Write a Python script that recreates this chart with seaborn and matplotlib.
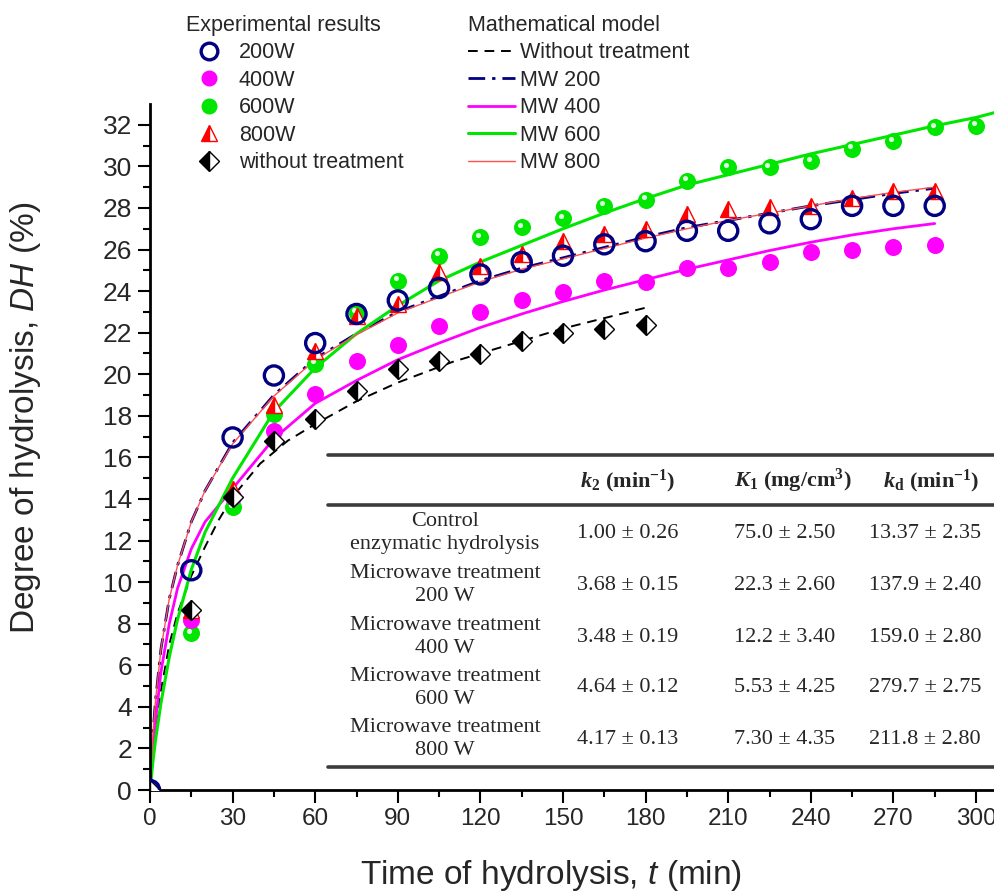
# %%
import numpy as np
import pandas as pd
import matplotlib
matplotlib.use("Agg")
import matplotlib.pyplot as plt
import seaborn as sns
from matplotlib.lines import Line2D
from matplotlib.transforms import ScaledTranslation

# %% experimental points
t_exp = [0, 15, 30, 45, 60, 75, 90, 105, 120, 135, 150, 165, 180, 195, 210, 225, 240, 255, 270, 285]
t_exp_600 = t_exp + [300]
t_exp_ctrl = t_exp[:13]

dh_200 = [0, 10.57, 16.96, 19.94, 21.5, 22.9, 23.55, 24.15, 24.8, 25.4, 25.7, 26.25, 26.4,
          26.9, 26.9, 27.26, 27.46, 28.1, 28.1, 28.1]
dh_400 = [0, 8.17, 14.1, 17.25, 19.05, 20.66, 21.43, 22.3, 22.98, 23.58, 23.95, 24.5, 24.46,
          25.1, 25.1, 25.4, 25.9, 26.0, 26.1, 26.24]
dh_600 = [0, 7.55, 13.6, 18.1, 20.5, 22.95, 24.5, 25.7, 26.6, 27.07, 27.5, 28.1, 28.4,
          29.3, 29.96, 29.96, 30.24, 30.84, 31.2, 31.87, 31.95]
dh_800 = [0, 8.65, 14.5, 18.5, 21.1, 22.8, 23.39, 24.9, 25.2, 25.8, 26.4, 26.75, 26.98,
          27.7, 27.95, 28.03, 28.1, 28.5, 28.8, 28.8]
dh_ctrl = [0, 8.65, 14.1, 16.8, 17.85, 19.2, 20.26, 20.66, 20.98, 21.6, 22.0, 22.2, 22.37]

# %% model curves
t_mod_ctrl = [0, 1, 2, 4, 7, 10, 15, 20, 25, 30, 40, 50, 60, 75, 90, 110, 130, 150, 165, 180]
mod_ctrl = [0, 1.6, 2.9, 4.8, 7.0, 8.5, 10.3, 11.7, 13.0, 14.1, 15.7, 16.8, 17.6, 18.7, 19.6,
            20.6, 21.4, 22.2, 22.7, 23.2]

t_mod = [0, 1, 2, 4, 7, 10, 15, 20, 30, 45, 60, 75, 90, 105, 120, 135, 150, 165, 180,
         195, 210, 225, 240, 255, 270, 285]
mod_200 = [0, 2.6, 4.3, 6.8, 9.2, 10.8, 12.9, 14.4, 16.7, 19.0, 20.75, 21.95, 23.0, 23.75,
           24.5, 25.1, 25.6, 26.1, 26.6, 27.05, 27.4, 27.75, 28.1, 28.4, 28.7, 28.95]
mod_800 = [0, 2.6, 4.3, 6.8, 9.2, 10.8, 12.9, 14.4, 16.65, 18.95, 20.7, 21.9, 22.95, 23.7,
           24.45, 25.05, 25.55, 26.05, 26.55, 27.0, 27.4, 27.75, 28.1, 28.45, 28.75, 29.0]
mod_400 = [0, 1.7, 3.3, 5.7, 8.0, 9.7, 11.6, 12.9, 14.5, 16.9, 18.6, 19.7, 20.7, 21.5,
           22.25, 22.9, 23.5, 24.05, 24.55, 25.05, 25.5, 25.95, 26.35, 26.7, 27.0, 27.25]
t_mod_600 = t_mod + [300, 310]
mod_600 = [0, 1.3, 2.4, 4.2, 6.4, 8.2, 10.6, 12.4, 15.0, 18.2, 20.3, 21.95, 23.3, 24.5,
           25.4, 26.2, 27.0, 27.75, 28.45, 29.1, 29.6, 30.1, 30.6, 31.05, 31.5, 31.95, 32.35, 32.7]

# %% table
row_labels = ["Control\nenzymatic hydrolysis", "Microwave treatment\n200 W",
              "Microwave treatment\n400 W", "Microwave treatment\n600 W",
              "Microwave treatment\n800 W"]
col_k2 = ["1.00 ± 0.26", "3.68 ± 0.15", "3.48 ± 0.19", "4.64 ± 0.12", "4.17 ± 0.13"]
col_K1 = ["75.0 ± 2.50", "22.3 ± 2.60", "12.2 ± 3.40", "5.53 ± 4.25", "7.30 ± 4.35"]
col_kd = ["13.37 ± 2.35", "137.9 ± 2.40", "159.0 ± 2.80", "279.7 ± 2.75", "211.8 ± 2.80"]

NAVY, MAGENTA, GREEN, RED = "#000080", "#ff00ff", "#00e600", "#ff0000"

W, H = 995, 894


def fx(px):
    return px / W


def fy(py):
    return 1 - py / H


sns.set_theme(style="ticks")
plt.rcParams["font.family"] = ["Liberation Sans", "DejaVu Sans"]
plt.rcParams.update({
    "mathtext.fontset": "custom",
    "mathtext.rm": "Liberation Serif",
    "mathtext.it": "Liberation Serif:italic",
    "mathtext.bf": "Liberation Serif:bold",
    "mathtext.bfit": "Liberation Serif:italic:bold",
    "mathtext.sf": "Liberation Sans:italic",
})

fig = plt.figure(figsize=(W / 100, H / 100), dpi=100)
ax = fig.add_axes([fx(150), fy(790), fx(995) - fx(150), fy(104) - fy(790)])

# model curves
sns.lineplot(x=t_mod_ctrl, y=mod_ctrl, color="black", lw=1.4, linestyle=(0, (5, 3.5)), ax=ax, zorder=2)
sns.lineplot(x=t_mod, y=mod_200, color=NAVY, lw=2.0, linestyle=(0, (6, 2.5, 1.2, 2.5)), ax=ax, zorder=2)
sns.lineplot(x=t_mod, y=mod_400, color=MAGENTA, lw=2.0, ax=ax, zorder=2)
sns.lineplot(x=t_mod_600, y=mod_600, color=GREEN, lw=2.2, ax=ax, zorder=2)
sns.lineplot(x=t_mod, y=mod_800, color="#ff5050", lw=1.0, ax=ax, zorder=2)

# experimental points
sns.scatterplot(x=t_exp_600, y=dh_600, color=GREEN, s=150, edgecolor=GREEN, linewidth=0, ax=ax, zorder=3)
hl = ax.transData + ScaledTranslation(-1.5 / 72, 1.8 / 72, fig.dpi_scale_trans)
ax.scatter(t_exp_600, dh_600, s=14, color="#d8ffd8", linewidth=0, transform=hl, zorder=3.1)
sns.scatterplot(x=t_exp, y=dh_400, color=MAGENTA, s=150, linewidth=0, ax=ax, zorder=3.2)
ax.plot(t_exp, dh_800, ls="none", marker="^", ms=12, mfc=RED, mfcalt="white", mec=RED,
        mew=1.0, fillstyle="left", zorder=3.3)
ax.plot(t_exp_ctrl, dh_ctrl, ls="none", marker="D", ms=10, mfc="black", mfcalt="white", mec="black",
        mew=1.0, fillstyle="left", zorder=3.4)
sns.scatterplot(x=t_exp, y=dh_200, facecolor="none", edgecolor=NAVY, s=190, linewidth=2.4, ax=ax, zorder=3.5)

ax.set_xlim(0, 306.9)
ax.set_ylim(0, 33)
ax.set_xticks(np.arange(0, 301, 30))
ax.set_xticks(np.arange(15, 301, 30), minor=True)
ax.set_yticks(np.arange(0, 33, 2))
ax.set_yticks(np.arange(1, 33, 2), minor=True)
ax.tick_params(which="major", length=9, width=1.5, labelsize=19, direction="out", color="black", pad=4)
ax.tick_params(which="minor", length=5, width=1.5, direction="out", color="black")
ax.tick_params(axis="x", labelsize=17.5)
for s in ["top", "right"]:
    ax.spines[s].set_visible(False)
for s in ["left", "bottom"]:
    ax.spines[s].set_linewidth(2.0)
    ax.spines[s].set_color("black")

ax.set_xlabel(r"Time of hydrolysis, $\mathsf{t}$ (min)", fontsize=24)
ax.set_ylabel(r"Degree of hydrolysis, $\mathsf{DH}$ (%)", fontsize=24)
ax.xaxis.set_label_coords(0.475, -0.099)
ax.yaxis.set_label_coords(-0.127, 0.542)

# legends
exp_handles = [
    Line2D([], [], ls="none", marker="o", ms=12, mfc="none", mec=NAVY, mew=2.4),
    Line2D([], [], ls="none", marker="o", ms=11.5, mfc=MAGENTA, mec=MAGENTA, mew=0),
    Line2D([], [], ls="none", marker="o", ms=11.5, mfc=GREEN, mec=GREEN, mew=0),
    Line2D([], [], ls="none", marker="^", ms=12, mfc=RED, mfcalt="white", mec=RED, mew=1, fillstyle="left"),
    Line2D([], [], ls="none", marker="D", ms=10, mfc="black", mfcalt="white", mec="black", mew=1, fillstyle="left"),
]
exp_labels = ["200W", "400W", "600W", "800W", "without treatment"]
leg1 = ax.legend(exp_handles, exp_labels, title="Experimental results", loc="upper left",
                 bbox_to_anchor=(fx(186), fy(15)), bbox_transform=fig.transFigure,
                 frameon=False, fontsize=15.5, title_fontsize=15.5, alignment="left",
                 handlelength=2.1, handletextpad=0.35, labelspacing=0.3, borderpad=0, borderaxespad=0)
ax.add_artist(leg1)

mod_handles = [
    Line2D([], [], color="black", lw=1.4, ls=(0, (5, 3.5))),
    Line2D([], [], color=NAVY, lw=2.0, ls=(0, (6, 2.5, 1.2, 2.5))),
    Line2D([], [], color=MAGENTA, lw=2.0),
    Line2D([], [], color=GREEN, lw=2.2),
    Line2D([], [], color="#ff5050", lw=1.0),
]
mod_labels = ["Without treatment", "MW 200", "MW 400", "MW 600", "MW 800"]
ax.legend(mod_handles, mod_labels, title="Mathematical model", loc="upper left",
          bbox_to_anchor=(fx(468), fy(15)), bbox_transform=fig.transFigure,
          frameon=False, fontsize=15.5, title_fontsize=15.5, alignment="left",
          handlelength=2.2, handletextpad=0.2, labelspacing=0.3, borderpad=0, borderaxespad=0)

# table
for yl in [455, 505, 767]:
    fig.add_artist(Line2D([fx(328), fx(995)], [fy(yl), fy(yl)], color="#3c3c3c", lw=2.6))

hdr = dict(fontsize=16, family="Liberation Serif", fontweight="bold", ha="center", va="center")
fig.text(fx(628), fy(481), r"$\mathbfit{k}_\mathbf{2}$ (min$^{\mathbf{-1}}$)", **hdr)
fig.text(fx(793), fy(481), r"$\mathbfit{K}_\mathbf{1}$ (mg/cm$^{\mathbf{3}}$)", **hdr)
fig.text(fx(931), fy(481), r"$\mathbfit{k}_\mathbf{d}$ (min$^{\mathbf{-1}}$)", **hdr)

cell = dict(fontsize=16, family="Liberation Serif", ha="center", va="center")
row_y = [533, 585, 637, 688, 739]
for i, y in enumerate(row_y):
    fig.text(fx(445), fy(y), row_labels[i], linespacing=1.22, multialignment="center", **cell)
    fig.text(fx(628), fy(y), col_k2[i], **cell)
    fig.text(fx(785), fy(y), col_K1[i], **cell)
    fig.text(fx(925), fy(y), col_kd[i], **cell)

fig.savefig("out.png", dpi=100)
